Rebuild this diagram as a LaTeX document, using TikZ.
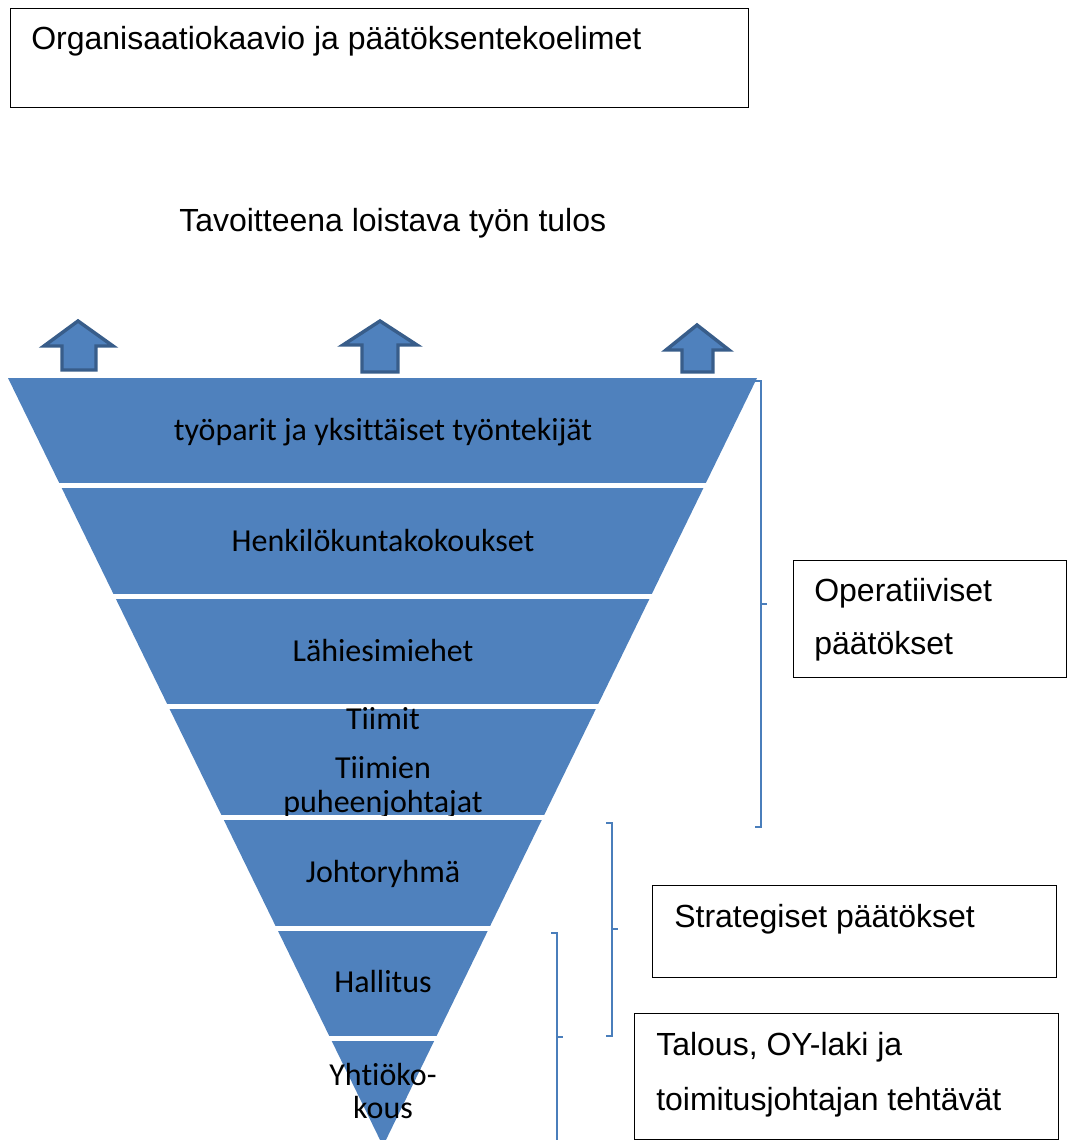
\documentclass[tikz,border=0pt]{standalone}
\usepackage{fontspec}
\setmainfont{Liberation Sans}
\newfontfamily\bandfont[Ligatures=NoCommon]{Carlito}
\usepackage{xcolor}
\usepackage{tikz}
\definecolor{bandblue}{RGB}{79,129,189}
\definecolor{arrowedge}{RGB}{56,93,138}
\definecolor{bracketblue}{RGB}{74,126,187}

\begin{document}
\begin{tikzpicture}[x=0.75pt,y=0.75pt,yscale=-1,xscale=1,
  boxtext/.style={anchor=base west,inner sep=0.75pt,font=\fontsize{24}{29}\selectfont},
  bandtext/.style={anchor=base,inner sep=0.75pt,font=\bandfont\fontsize{24}{29}\selectfont},
  uparrow/.style={fill=bandblue,draw=arrowedge,line width=2.6pt,line join=miter},
  bracket/.style={draw=bracketblue,line width=1.1pt},
  gap/.style={draw=white,line width=3.75pt}]
\useasboundingbox (0,0) rectangle (1068,1140);
% title
\draw   (10,8) -- (748,8) -- (748,107) -- (10,107) -- cycle ;
\draw (30,49) node (title) [boxtext] {Organisaatiokaavio ja päätöksentekoelimet};
\draw (178,231) node (goal) [boxtext] {Tavoitteena loistava työn tulos};
% inverted triangle
\fill [bandblue] (8,378) -- (757,378) -- (383,1146) -- cycle ;
\draw [gap] (0,485.8) -- (780,485.8) ;
\draw [gap] (0,596.3) -- (780,596.3) ;
\draw [gap] (0,706.8) -- (780,706.8) ;
\draw [gap] (0,817.5) -- (780,817.5) ;
\draw [gap] (0,928) -- (780,928) ;
\draw [gap] (0,1038.5) -- (780,1038.5) ;
% levels
\draw (383,440) node (pairs) [bandtext] {työparit ja yksittäiset työntekijät};
\draw (383,551) node (staff) [bandtext] {Henkilökuntakokoukset};
\draw (383,661) node (leads) [bandtext] {Lähiesimiehet};
\draw (383,729) node (teams) [bandtext] {Tiimit};
\draw (383,778) node (chairsA) [bandtext] {Tiimien};
\begin{scope}
\clip (0,700) rectangle (780,815);
\draw (383,812) node (chairsB) [bandtext] {puheenjohtajat};
\end{scope}
\draw (383,882) node (mgmt) [bandtext] {Johtoryhmä};
\draw (383,992) node (board) [bandtext] {Hallitus};
\draw (383,1085) node (agmA) [bandtext] {Yhtiöko-};
\draw (383,1118) node (agmB) [bandtext] {kous};
% arrows
\draw [uparrow] (78,321) -- (113,346) -- (96,346) -- (96,370) -- (62,370) -- (62,346) -- (44,346) -- cycle ;
\draw [uparrow] (380,321) -- (417,345) -- (398,345) -- (398,372) -- (362,372) -- (362,345) -- (343,345) -- cycle ;
\draw [uparrow] (697,325) -- (729,350) -- (713,350) -- (713,372) -- (682,372) -- (682,350) -- (666,350) -- cycle ;
% brackets
\draw [bracket] (755,381) -- (761,381) -- (761,827) -- (755,827) (761,604) -- (767,604) ;
\draw [bracket] (606,823) -- (612,823) -- (612,1036) -- (606,1036) (612,929) -- (618,929) ;
\draw [bracket] (551,933) -- (557,933) -- (557,1142) (557,1037) -- (563,1037) ;
% decision boxes
\draw   (793,560) -- (1066,560) -- (1066,677) -- (793,677) -- cycle ;
\draw (813,601) node (opA) [boxtext] {Operatiiviset};
\draw (813,654) node (opB) [boxtext] {päätökset};
\draw   (652,885) -- (1056,885) -- (1056,977) -- (652,977) -- cycle ;
\draw (673,927) node (strat) [boxtext] {Strategiset päätökset};
\draw   (634,1013) -- (1058,1013) -- (1058,1139) -- (634,1139) -- cycle ;
\draw (655,1055) node (ecoA) [boxtext] {Talous, OY-laki ja};
\draw (655,1110) node (ecoB) [boxtext] {toimitusjohtajan tehtävät};
\end{tikzpicture}
\end{document}
